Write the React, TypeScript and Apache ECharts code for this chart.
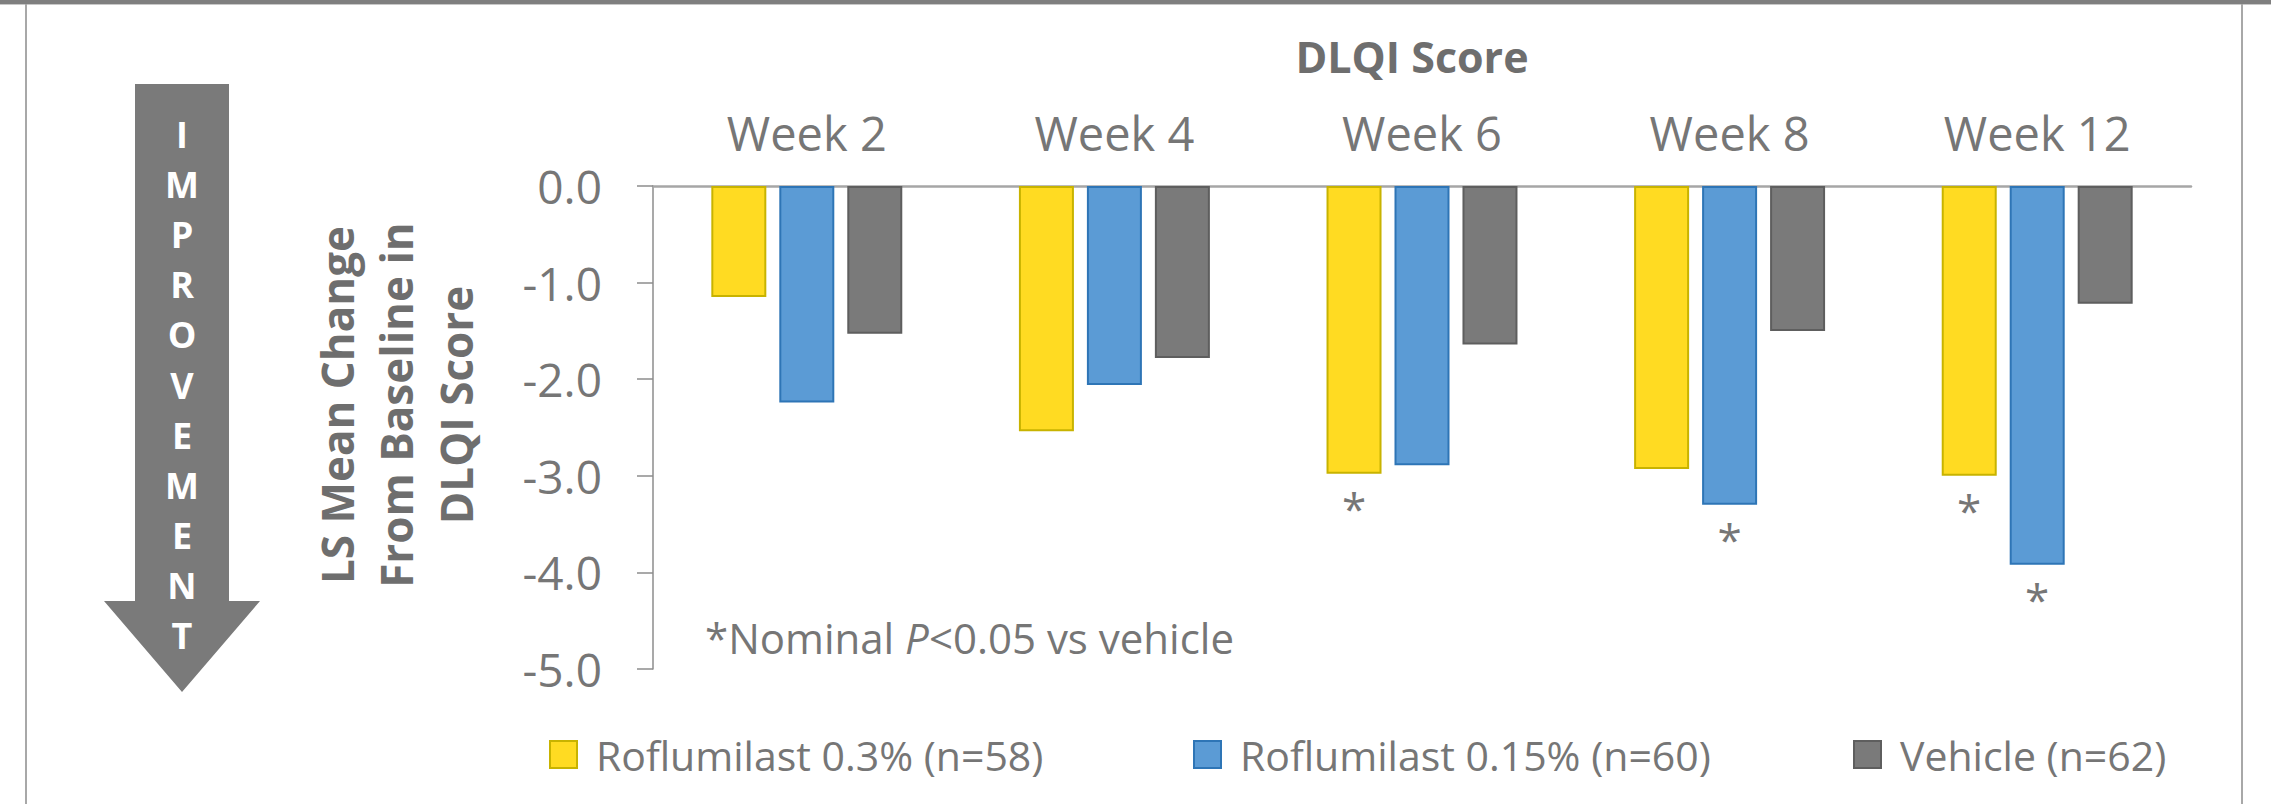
import React, { useEffect, useRef } from "react";
import * as echarts from "echarts";

// ---- data ----
const categories = ["Week 2", "Week 4", "Week 6", "Week 8", "Week 12"];
const seriesNames = ["Roflumilast 0.3% (n=58)", "Roflumilast 0.15% (n=60)", "Vehicle (n=62)"];
const roflumilast03 = [-1.15, -2.54, -2.98, -2.93, -3.0];
const roflumilast015 = [-2.24, -2.06, -2.89, -3.3, -3.92];
const vehicle = [-1.53, -1.78, -1.64, -1.5, -1.22];
const sig03 = [false, false, true, false, true];
const sig015 = [false, false, false, true, true];
const sigVehicle = [false, false, false, false, false];
const yMin = -5;
const yMax = 0;
const yInterval = 1;
const arrowWord = "IMPROVEMENT";
const chartTitle = "DLQI Score";
const yTitle = "LS Mean Change\nFrom Baseline in\nDLQI Score";
const footnote = "*Nominal {i|P}<0.05 vs vehicle";

// ---- styles ----
const FONT = '"Open Sans", "Noto Sans", sans-serif';
const TEXT = "#767676";
const DARK = "#6e6e6e";
const fills = ["#FFDB22", "#5B9BD5", "#7A7A7A"];
const borders = ["#C8B300", "#2E75B6", "#5E5E5E"];

export default function App() {
  const ref = useRef<HTMLDivElement>(null);

  useEffect(() => {
    if (!ref.current) return;
    const chart = echarts.init(ref.current, undefined, { renderer: "svg" });

    const values = [roflumilast03, roflumilast015, vehicle];
    const sigs = [sig03, sig015, sigVehicle];

    const series = values.map((vals, si) => ({
      name: seriesNames[si],
      type: "bar",
      barWidth: 55,
      barGap: "23.6%",
      itemStyle: { color: fills[si], borderColor: borders[si], borderWidth: 2 },
      label: {
        position: "bottom",
        distance: 12,
        fontSize: 44,
        color: TEXT,
        fontFamily: FONT,
      },
      data: vals.map((v, i) => ({
        value: v,
        label: { show: sigs[si][i], formatter: "*" },
      })),
    }));

    const letters = arrowWord.split("").map((ch, i) => ({
      type: "text",
      x: 182,
      y: 134.5 + i * 50.1,
      style: {
        text: ch,
        fill: "#ffffff",
        font: `bold 36px ${FONT}`,
        align: "center",
        verticalAlign: "middle",
        textAlign: "center",
        textVerticalAlign: "middle",
      },
    }));

    const option = {
      animation: false,
      backgroundColor: "#ffffff",
      grid: { left: 653, right: 80, top: 186, bottom: 135, containLabel: false },
      legend: seriesNames.map((n, i) => ({
        data: [n],
        left: [544, 1188, 1848][i],
        top: 729,
        icon: "rect",
        itemWidth: 27,
        itemHeight: 27,
        textStyle: { fontSize: 41, color: TEXT, fontFamily: FONT, padding: [0, 0, 0, 14] },
        selectedMode: false,
      })),
      xAxis: {
        type: "category",
        data: categories,
        position: "top",
        axisLine: { show: true, lineStyle: { color: "#a6a6a6", width: 2.5 } },
        axisTick: { show: false },
        axisLabel: { interval: 0, fontSize: 47, color: TEXT, fontFamily: FONT, margin: 30 },
        splitLine: { show: false },
      },
      yAxis: {
        type: "value",
        min: yMin,
        max: yMax,
        interval: yInterval,
        axisLine: { show: true, lineStyle: { color: "#8c8c8c", width: 1.5 } },
        axisTick: { show: true, inside: false, length: 16, lineStyle: { color: "#8c8c8c", width: 1.5 } },
        axisLabel: {
          fontSize: 46,
          color: TEXT,
          fontFamily: FONT,
          margin: 51,
          formatter: (v: number) => v.toFixed(1),
        },
        splitLine: { show: false },
      },
      series,
      graphic: [
        { type: "rect", shape: { x: 0, y: 0, width: 2271, height: 4 }, style: { fill: "#7f7f7f" } },
        { type: "line", shape: { x1: 0, y1: 4.5, x2: 2271, y2: 4.5 }, style: { stroke: "#c8c8c8", lineWidth: 1 } },
        { type: "line", shape: { x1: 26, y1: 4, x2: 26, y2: 804 }, style: { stroke: "#a8a8a8", lineWidth: 2 } },
        { type: "line", shape: { x1: 2242, y1: 4, x2: 2242, y2: 804 }, style: { stroke: "#a8a8a8", lineWidth: 2 } },
        {
          type: "polygon",
          shape: {
            points: [
              [135, 84],
              [229, 84],
              [229, 601],
              [260, 601],
              [182, 692],
              [104, 601],
              [135, 601],
            ],
          },
          style: { fill: "#7a7a7a" },
        },
        ...letters,
        {
          type: "text",
          x: 1412,
          y: 56,
          style: {
            text: chartTitle,
            fill: DARK,
            font: `bold 43px ${FONT}`,
            align: "center",
            verticalAlign: "middle",
            textAlign: "center",
            textVerticalAlign: "middle",
          },
        },
        {
          type: "text",
          x: 396,
          y: 405,
          rotation: Math.PI / 2,
          style: {
            text: yTitle,
            fill: DARK,
            font: `bold 44px ${FONT}`,
            lineHeight: 59.5,
            align: "center",
            verticalAlign: "middle",
            textAlign: "center",
            textVerticalAlign: "middle",
          },
        },
        {
          type: "text",
          x: 705,
          y: 637,
          style: {
            text: footnote,
            fill: TEXT,
            font: `42px ${FONT}`,
            align: "left",
            verticalAlign: "middle",
            textAlign: "left",
            textVerticalAlign: "middle",
            rich: {
              i: { fontStyle: "italic", fontSize: 42, fontFamily: FONT, fill: TEXT, color: TEXT },
            },
          },
        },
      ],
    };

    chart.setOption(option as any);
    return () => chart.dispose();
  }, []);

  return (
    <div
      ref={ref}
      style={{ position: "fixed", left: 0, top: 0, width: 2271, height: 804, background: "#fff" }}
    />
  );
}
